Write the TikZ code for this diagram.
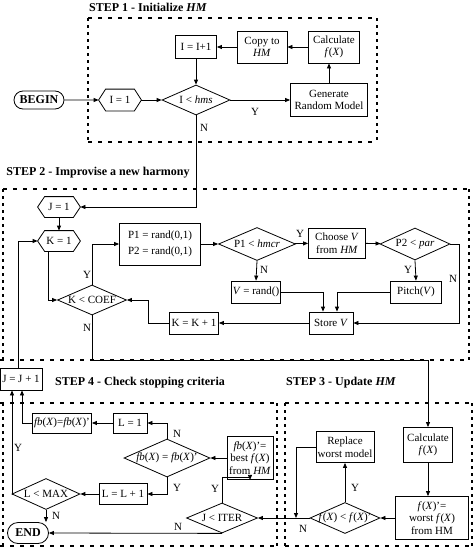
\documentclass[tikz,border=0pt]{standalone}
\usepackage{fontspec}
\setmainfont{Liberation Serif}
\usetikzlibrary{shapes.geometric,shapes.misc,arrows.meta}
\newcommand\zw[1]{\makebox[0pt]{#1}}
\newcommand\hexa[1]{\draw (#1.west) -- ([xshift=7pt]#1.north west) -- ([xshift=-7pt]#1.north east) -- (#1.east) -- ([xshift=-7pt]#1.south east) -- ([xshift=7pt]#1.south west) -- cycle;}
\begin{document}
\begin{tikzpicture}[x=1pt,y=-1pt,
  font=\fontsize{11}{12.5}\selectfont,
  >={Triangle[length=5pt,width=4pt]},
  line width=0.8pt,
  bx/.style={draw,rectangle,inner sep=1pt,align=center},
  dia/.style={draw,diamond,inner sep=0pt},
  hx/.style={rectangle,inner sep=0pt},
  term/.style={draw,rounded rectangle,inner sep=1pt,font=\fontsize{12}{13}\selectfont\bfseries},
  lab/.style={inner sep=0pt},
  ttl/.style={inner sep=0pt,font=\fontsize{12}{14}\selectfont\bfseries},
  hframe/.style={line width=1.8pt,dash pattern=on 4pt off 6pt},
  vframe/.style={line width=2pt,dash pattern=on 2.5pt off 4.5pt}
]
\useasboundingbox (0,0) rectangle (474,549);
\fill[white] (0,0) rectangle (474,549);

% ---------- STEP 1 ----------
\node[ttl] (t1) at (148,7) {STEP 1 - Initialize \textit{HM}};
\draw[hframe] (88,18) -- (377,18);
\draw[hframe] (88,142) -- (377,142);
\draw[vframe] (88,18) -- (88,142);
\draw[vframe] (377,18) -- (377,142);

\node[term,minimum width=52pt,minimum height=18pt] (begin) at (39,100) {BEGIN};
\node[hx,minimum width=42pt,minimum height=21pt] (i1) at (120,100) {I = 1}; \hexa{i1}
\node[dia,minimum width=68pt,minimum height=30pt] (ihms) at (196,100) {\zw{I < \textit{hms}}};
\node[bx,minimum width=77pt,minimum height=33pt] (gen) at (329,100) {Generate\\Random Model};
\node[bx,minimum width=51pt,minimum height=32pt] (calc1) at (334,47) {Calculate\\\textit{f}(\textit{X})};
\node[bx,minimum width=50pt,minimum height=32pt] (copy) at (262,47) {Copy to\\\textit{HM}};
\node[bx,minimum width=41pt,minimum height=23pt] (iinc) at (196,47) {I = I+1};

\draw[->] (begin) -- (i1);
\draw[->] (i1) -- (ihms);
\draw[->] (ihms) -- (gen);
\draw[->] (gen.north) -- (gen.north |- calc1.south);
\draw[->] (calc1) -- (copy);
\draw[->] (copy) -- (iinc);
\draw[->] (iinc) -- (ihms);
\node[lab] (y1) at (255,112) {Y};
\node[lab] (n1) at (204,128) {N};

% ---------- STEP 2 ----------
\node[ttl] (t2) at (98,173) {STEP 2 - Improvise a new harmony};
\draw[hframe] (3,189) -- (469,189);
\draw[hframe] (0,360) -- (469,360);
\draw[vframe] (3,189) -- (3,360);
\draw[vframe] (469,189) -- (469,360);

\node[hx,minimum width=42pt,minimum height=20pt] (j1) at (59,207) {J = 1}; \hexa{j1}
\node[hx,minimum width=42pt,minimum height=20pt] (k1) at (59,241) {K = 1}; \hexa{k1}
\node[bx,minimum width=81pt,minimum height=42pt] (p12) at (160,244) {P1 = rand(0,1)\\[4pt]P2 = rand(0,1)};
\node[dia,minimum width=77pt,minimum height=33pt] (hmcr) at (257,244) {\zw{P1 < \textit{hmcr}}};
\node[bx,minimum width=57pt,minimum height=30pt] (choose) at (337,243) {Choose \textit{V}\\from \textit{HM}};
\node[dia,minimum width=70pt,minimum height=32pt] (par) at (415,244) {\zw{P2 < \textit{par}}};
\node[bx,minimum width=49pt,minimum height=22pt] (vrand) at (256,292) {\textit{V} = rand()};
\node[bx,minimum width=51pt,minimum height=22pt] (pitch) at (416,292) {Pitch(\textit{V})};
\node[bx,minimum width=44pt,minimum height=22pt] (store) at (331,323) {Store \textit{V}};
\node[bx,minimum width=49pt,minimum height=22pt] (kinc) at (194,323) {K = K + 1};
\node[dia,minimum width=69pt,minimum height=30pt] (kcoef) at (92,300) {\zw{K < COEF}};
\coordinate (pr) at (459,0);

\draw[->] (ihms.south) |- (j1.east);
\draw[->] (j1.south) -- (k1.north);
\draw[->] ([xshift=-11pt]k1.south) |- (kcoef.west);
\draw[->] (kcoef.north) |- (p12.west);
\draw[->] (p12) -- (hmcr);
\draw[->] (hmcr) -- (choose);
\draw[->] (choose) -- (par);
\draw[->] (hmcr.south) -- (vrand.north);
\draw[->] (par.south) -- (pitch.north);
\draw[->] (par.east) -- (par.east -| pr) -- (pr |- store.east) -- (store.east);
\draw[->] (vrand.east) -| ([xshift=-8pt]store.north);
\draw[->] (pitch.west) -| ([xshift=6pt]store.north);
\draw[->] (store) -- (kinc);
\draw[->] (kinc.west) -- ++(-21,0) |- (kcoef.east);
\node[lab] (y2) at (87,275) {Y};
\node[lab] (y3) at (300,234) {Y};
\node[lab] (n2) at (264,270) {N};
\node[lab] (y4) at (408,270) {Y};
\node[lab] (n3) at (453,279) {N};
\node[lab] (n4) at (87,328) {N};

% ---------- STEP 4 / STEP 3 ----------
\node[ttl] (t4) at (140,383) {STEP 4 - Check stopping criteria};
\node[ttl] (t3) at (341,383) {STEP 3 - Update \textit{HM}};
\draw[hframe] (0,403) -- (277,403);
\draw[hframe] (0,546) -- (277,546);
\draw[vframe] (3,403) -- (3,546);
\draw[vframe] (277,403) -- (277,546);
\draw[hframe] (285,403) -- (472,403);
\draw[hframe] (285,546) -- (472,546);
\draw[vframe] (285,403) -- (285,546);
\draw[vframe] (472,403) -- (472,546);

\node[bx,minimum width=42pt,minimum height=22pt,fill=white] (jinc) at (21,379) {J = J + 1};

\node[bx,minimum width=59pt,minimum height=20pt] (fbeq) at (62,423) {\textit{fb}(\textit{X})=\textit{fb}(\textit{X})'};
\node[bx,minimum width=34pt,minimum height=20pt] (l1) at (130,423) {L = 1};
\node[dia,minimum width=86pt,minimum height=38pt] (fbdia) at (167,458) {\zw{\textit{fb}(\textit{X}) = \textit{fb}(\textit{X})'}};
\node[bx,minimum width=46pt,minimum height=43pt] (best) at (250,458) {\textit{fb}(\textit{X})'=\\best \textit{f}(\textit{X})\\from \textit{HM}};
\node[bx,minimum width=48pt,minimum height=21pt] (linc) at (123,494) {L = L + 1};
\node[dia,minimum width=68pt,minimum height=31pt] (lmax) at (46,494) {\zw{L < MAX}};
\node[dia,minimum width=71pt,minimum height=30pt] (jiter) at (222,518) {\zw{J < ITER}};
\node[term,minimum width=43pt,minimum height=21pt] (end) at (28,533) {END};

\node[bx,minimum width=49pt,minimum height=35pt] (calc2) at (428,445) {Calculate\\\textit{f}(\textit{X})};
\node[bx,minimum width=58pt,minimum height=31pt] (repl) at (345,447) {Replace\\worst model};
\node[dia,minimum width=70pt,minimum height=31pt] (fdia) at (345,518) {\zw{\textit{f}(\textit{X}) < \textit{f}(\textit{X})'}};
\node[bx,minimum width=73pt,minimum height=43pt] (worst) at (432,518) {\textit{f}(\textit{X})'=\\worst \textit{f}(\textit{X})\\from HM};
\coordinate (mrg) at (296,518);

\draw[->] (kcoef.south) -- ++(0,45) -| (calc2.north);
\draw[->] (calc2.south) -- (calc2.south |- worst.north);
\draw[->] (worst) -- (fdia);
\draw[->] (fdia.north) -- (repl.south);
\draw[->] (fdia.west) -- (jiter.east);
\draw[->] (repl.west) -| (mrg);
\draw[->] (jiter.north) -- ++(0,-25) -| (best.south);
\draw[->] (jiter.south) -- (end.east);
\draw[->] (best) -- (fbdia);
\draw[->] (fbdia.north) |- (l1.east);
\draw[->] (fbdia.south) |- (linc.east);
\draw[->] (l1) -- (fbeq);
\draw[->] (fbeq.west) -| ([xshift=1pt]jinc.south);
\draw[->] (linc) -- (lmax);
\draw[->] (lmax.west) -| ([xshift=-9pt]jinc.south);
\draw[->] (lmax.south) -- (lmax.south |- end.north);
\draw[->] ([xshift=-3pt]jinc.north) |- (k1.west);

\node[lab] (y5) at (355,488) {Y};
\node[lab] (n5) at (303,529) {N};
\node[lab] (y6) at (215,489) {Y};
\node[lab] (n6) at (178,527) {N};
\node[lab] (n7) at (177,434) {N};
\node[lab] (y7) at (177,488) {Y};
\node[lab] (y8) at (18,448) {Y};
\node[lab] (n8) at (56,516) {N};
\end{tikzpicture}
\end{document}
